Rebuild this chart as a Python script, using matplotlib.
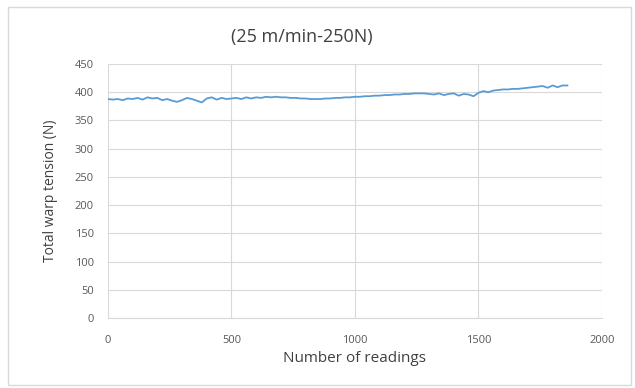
import numpy as np
import matplotlib
matplotlib.use("Agg")
import matplotlib.pyplot as plt
from matplotlib.patches import Rectangle

step = 20
tension = [
    388, 387, 388, 386, 389, 388, 390, 387, 391, 389,
    390, 386, 388, 385, 383, 386, 390, 388, 385, 382,
    389, 391, 387, 390, 388, 389, 390, 388, 391, 389,
    391, 390, 392, 391, 392, 391, 391, 390, 390, 389,
    389, 388, 388, 388, 389, 389, 390, 390, 391, 391,
    392, 392, 393, 393, 394, 394, 395, 395, 396, 396,
    397, 397, 398, 398, 398, 397, 396, 398, 395, 397,
    398, 394, 397, 396, 393, 399, 402, 400, 403, 404,
    405, 405, 406, 406, 407, 408, 409, 410, 411, 408,
    412, 409, 412, 412,
]
readings = np.arange(len(tension)) * step

x_ticks = [0, 500, 1000, 1500, 2000]
y_ticks = list(range(0, 451, 50))

plt.rcParams["font.family"] = ["Open Sans", "DejaVu Sans"]

fig = plt.figure(figsize=(6.35, 3.88), dpi=100)
ax = fig.add_axes([0.170, 0.180, 0.778, 0.655])

ax.plot(readings, tension, color="#5B9BD5", linewidth=1.3)

ax.set_xlim(0, 2000)
ax.set_ylim(0, 450)
ax.set_xticks(x_ticks)
ax.set_yticks(y_ticks)
ax.grid(True, color="#D9D9D9", linewidth=0.8)
ax.set_axisbelow(True)
for side in ["top", "right", "left"]:
    ax.spines[side].set_visible(False)
ax.spines["bottom"].set_color("#D9D9D9")
ax.tick_params(length=0, labelsize=8, labelcolor="#595959")
ax.tick_params(axis="x", pad=12)
ax.tick_params(axis="y", pad=10)

ax.set_xlabel("Number of readings", fontsize=11, color="#404040", labelpad=4)
ax.set_ylabel("Total warp tension (N)", fontsize=10, color="#404040", labelpad=12)
fig.text(0.475, 0.905, "(25 m/min-250N)", ha="center", va="center",
         fontsize=13, color="#404040")

# chart border like the spreadsheet frame
fig.patches.append(Rectangle((0.013, 0.008), 0.98, 0.975, transform=fig.transFigure,
                             fill=False, edgecolor="#D9D9D9", linewidth=1))

fig.savefig("out.png", dpi=100, facecolor="white")
